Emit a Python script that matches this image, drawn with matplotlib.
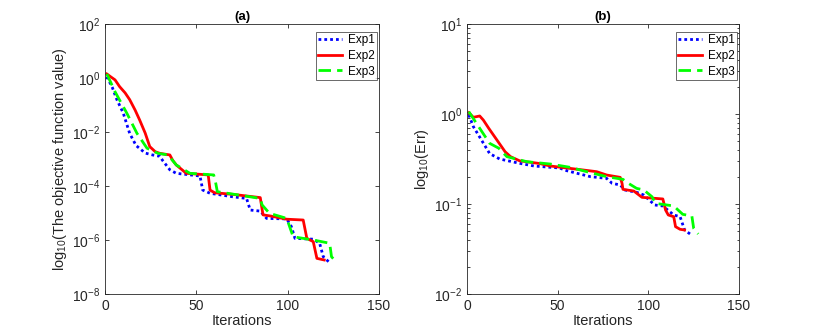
import numpy as np
import matplotlib
matplotlib.use("Agg")
import matplotlib.pyplot as plt
from matplotlib.ticker import LogLocator, NullLocator

plt.rcParams['font.family'] = ['Liberation Sans', 'DejaVu Sans']
plt.rcParams['mathtext.fontset'] = 'custom'
plt.rcParams['mathtext.rm'] = 'Liberation Sans'

# ---- panel (a): objective function value, stored as log10 exponents ----
exp1_a_x = [1, 4, 6.5, 10, 13.5, 17, 22, 26, 30, 31.5, 35.5, 39, 52, 53.5, 57.5, 70, 77.5,
            79.5, 85, 88.5, 99.5, 102, 104, 114, 117.5, 119.5, 123]
exp1_a_log = [0.05, -0.35, -0.8, -1.3, -2.05, -2.5, -2.78, -2.85, -2.9, -3.05, -3.4, -3.53,
              -3.63, -4.15, -4.27, -4.4, -4.46, -4.89, -4.93, -5.2, -5.22, -5.5, -5.94, -5.97,
              -6.12, -6.62, -6.84]

exp2_a_x = [1, 3, 5.5, 8, 11, 13.5, 16.5, 19, 22, 24.5, 27.5, 30, 35.5, 37, 39, 44.5, 56.5,
            57.5, 60, 70, 85, 86.5, 90.5, 99.5, 108.5, 110.5, 114, 116, 120]
exp2_a_log = [0.15, 0.05, -0.07, -0.32, -0.55, -0.8, -1.19, -1.56, -2.04, -2.54, -2.73, -2.79,
              -2.85, -3.04, -3.22, -3.53, -3.59, -4.15, -4.25, -4.31, -4.43, -5.07, -5.11,
              -5.23, -5.26, -5.94, -6.06, -6.68, -6.74]

exp3_a_x = [1, 5.5, 12, 17.5, 23, 29, 34.5, 39, 46.5, 59.5, 60.5, 61.5, 85, 86, 90, 99.5, 103,
            114, 123, 124, 127]
exp3_a_log = [0.15, -0.51, -1.31, -2.05, -2.6, -2.79, -2.85, -3.22, -3.53, -3.59, -3.85, -4.21,
              -4.46, -4.7, -5.01, -5.2, -5.88, -6.0, -6.12, -6.62, -6.84]

# ---- panel (b): Err, stored as log10 exponents ----
exp1_b_x = [1, 3.5, 8, 12.5, 18, 29, 37, 51, 55, 68, 77, 80, 84.5, 87, 93.5, 97.5, 103.5, 108,
            114, 117.5, 120, 123]
exp1_b_log = [-0.01, -0.14, -0.29, -0.44, -0.5, -0.548, -0.578, -0.6, -0.63, -0.696, -0.715,
              -0.77, -0.789, -0.844, -0.87, -0.9, -1.011, -1.022, -1.122, -1.141, -1.289, -1.333]

exp2_b_x = [1, 3.5, 7, 9, 12, 16.5, 21, 24, 29, 40, 46, 51, 64, 71.5, 77, 84.5, 85.5, 86, 92,
            96.5, 108, 109.5, 111, 114, 115, 117.5, 120]
exp2_b_log = [0.015, -0.037, -0.022, -0.067, -0.159, -0.289, -0.419, -0.474, -0.52, -0.55,
              -0.578, -0.59, -0.622, -0.641, -0.678, -0.704, -0.77, -0.837, -0.856, -0.926,
              -0.944, -1.067, -1.122, -1.141, -1.252, -1.281, -1.289]

exp3_b_x = [1, 7, 12.5, 17.5, 22, 33, 46, 57, 66, 77, 86, 89, 93.5, 97.5, 102, 104, 114, 119,
            124, 125, 127.5]
exp3_b_log = [0.026, -0.159, -0.326, -0.38, -0.474, -0.53, -0.556, -0.593, -0.641, -0.696,
              -0.726, -0.77, -0.826, -0.844, -0.919, -0.993, -1.022, -1.115, -1.133, -1.27,
              -1.333]

labels = ["Exp1", "Exp2", "Exp3"]

fig = plt.figure(figsize=(8.17, 3.31), dpi=100)
ax_a = fig.add_axes([105 / 817, 37 / 331, 274 / 817, 270 / 331])
ax_b = fig.add_axes([467 / 817, 37 / 331, 272 / 817, 270 / 331])

edge = '#262626'


def draw(ax, series, ylim, yticks, ylabel, title, minor):
    styles = [dict(color=(0, 0, 1), linestyle=(0, (1, 1.1))),
              dict(color=(1, 0, 0), linestyle='-'),
              dict(color=(0, 1, 0), linestyle=(0, (4.5, 2.2)))]
    for (xs, ls), st, lab in zip(series, styles, labels):
        ax.plot(xs, np.power(10.0, ls), linewidth=2, label=lab, **st)
    ax.set_yscale('log')
    ax.set_xlim(0, 150)
    ax.set_ylim(*ylim)
    ax.set_xticks([0, 50, 100, 150])
    ax.set_yticks(yticks)
    if minor:
        ax.yaxis.set_minor_locator(LogLocator(base=10, subs=np.arange(2, 10)))
    else:
        ax.yaxis.set_minor_locator(NullLocator())
    ax.xaxis.set_minor_locator(NullLocator())
    ax.tick_params(which='both', direction='in', top=True, right=True, labelsize=10,
                   colors=edge, width=0.6)
    ax.tick_params(which='major', length=3)
    ax.tick_params(which='minor', length=1.8)
    for s in ax.spines.values():
        s.set_color(edge)
        s.set_linewidth(0.6)
    ax.set_xlabel("Iterations", fontsize=10.5, color=edge, labelpad=1)
    ax.set_ylabel(ylabel, fontsize=10.5, color=edge, labelpad=2)
    ax.set_title(title, fontsize=9.5, fontweight='bold', pad=3)
    leg = ax.legend(loc='upper right', bbox_to_anchor=(0.993, 0.97), borderaxespad=0,
                    fontsize=8.5, frameon=True, fancybox=False, borderpad=0.2,
                    labelspacing=0.3, handlelength=2.0, handletextpad=0.5)
    leg.get_frame().set_edgecolor(edge)
    leg.get_frame().set_linewidth(0.6)


draw(ax_a, [(exp1_a_x, exp1_a_log), (exp2_a_x, exp2_a_log), (exp3_a_x, exp3_a_log)],
     (1e-8, 1e2), [1e-8, 1e-6, 1e-4, 1e-2, 1e0, 1e2],
     r"log$_{10}$(The objective function value)", "(a)", False)
draw(ax_b, [(exp1_b_x, exp1_b_log), (exp2_b_x, exp2_b_log), (exp3_b_x, exp3_b_log)],
     (1e-2, 1e1), [1e-2, 1e-1, 1e0, 1e1],
     r"log$_{10}$(Err)", "(b)", True)

fig.savefig("out.png", dpi=100)
